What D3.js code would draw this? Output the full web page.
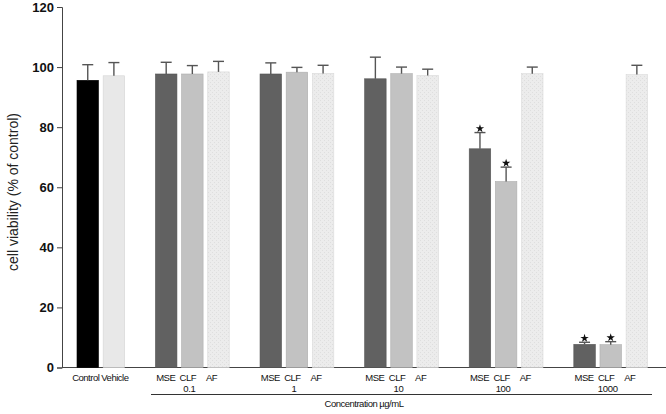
<!DOCTYPE html>
<html>
<head>
<meta charset="utf-8">
<script src="https://cdn.jsdelivr.net/npm/d3@7"></script>
<style>
  body { margin: 0; background: #fff; }
  text { font-family: "Liberation Sans", Arial, sans-serif; }
</style>
</head>
<body>
<div id="chart"></div>
<script>
// chart data (mean and upper error length)
var controlNames = ["Control", "Vehicle"];
var controlMeans = [95.6, 97.1];
var controlErr = [5.2, 4.4];

var groupLabels = ["0.1", "1", "10", "100", "1000"];
var seriesNames = ["MSE", "CLF", "AF"];
var mseMeans = [97.7, 97.7, 96.1, 72.8, 7.7];
var mseErr = [3.9, 3.7, 7.2, 5.4, 0.7];
var clfMeans = [97.7, 98.3, 97.8, 61.9, 7.6];
var clfErr = [2.8, 1.6, 2.2, 4.8, 1.0];
var afMeans = [98.4, 97.9, 97.2, 97.8, 97.5];
var afErr = [3.5, 2.7, 2.1, 2.2, 3.1];
var mseSig = [false, false, false, true, true];
var clfSig = [false, false, false, true, true];

var yTicks = [0, 20, 40, 60, 80, 100, 120];

var svgWidth = 666;
var svgHeight = 414;

var svg = d3.select("#chart")
  .append("svg")
  .attr("width", svgWidth)
  .attr("height", svgHeight);

// dotted fill for AF bars
var defs = svg.append("defs");
var pat = defs.append("pattern")
  .attr("id", "dots")
  .attr("width", 4)
  .attr("height", 4)
  .attr("patternUnits", "userSpaceOnUse");
pat.append("rect").attr("width", 4).attr("height", 4).attr("fill", "#ececec");
pat.append("rect").attr("x", 0).attr("y", 0).attr("width", 1).attr("height", 1).attr("fill", "#dedede");
pat.append("rect").attr("x", 2).attr("y", 2).attr("width", 1).attr("height", 1).attr("fill", "#dedede");

// build the list of bars, one slot each (empty slots between groups)
var bars = [];
controlNames.forEach(function(name, i) {
  bars.push({ slot: i, name: name, mean: controlMeans[i], err: controlErr[i], sig: false,
    fill: i === 0 ? "#000" : "#e8e8e8", stroke: i === 0 ? "#000" : "#d4d4d4" });
});
var seriesMeans = [mseMeans, clfMeans, afMeans];
var seriesErr = [mseErr, clfErr, afErr];
var seriesSig = [mseSig, clfSig, [false, false, false, false, false]];
var seriesFill = ["#616161", "#c2c2c2", "url(#dots)"];
var seriesStroke = ["#555", "#adadad", "#dadada"];
groupLabels.forEach(function(g, gi) {
  seriesNames.forEach(function(s, si) {
    bars.push({ slot: 3 + gi * 4 + si, name: s, group: gi, series: si,
      mean: seriesMeans[si][gi], err: seriesErr[si][gi], sig: seriesSig[si][gi],
      fill: seriesFill[si], stroke: seriesStroke[si] });
  });
});

var x = d3.scaleBand()
  .domain(d3.range(22))
  .range([77, 647.6])
  .paddingInner(0.178)
  .paddingOuter(0);

var y = d3.scaleLinear()
  .domain([0, 120])
  .range([367.5, 7]);

// y axis
var yAxis = svg.append("g")
  .attr("transform", "translate(62,0)")
  .call(d3.axisLeft(y).tickValues(yTicks).tickSize(5).tickPadding(3));
yAxis.select(".domain").attr("stroke", "#444");
yAxis.selectAll(".tick line").attr("stroke", "#444");
yAxis.selectAll(".tick text")
  .attr("font-size", "13px")
  .attr("font-weight", "bold")
  .attr("fill", "#111");

// x axis line
svg.append("line")
  .attr("x1", 62).attr("x2", 666)
  .attr("y1", y(0)).attr("y2", y(0))
  .attr("stroke", "#444");

// bars
svg.append("g").selectAll("rect")
  .data(bars)
  .enter()
  .append("rect")
  .attr("x", d => x(d.slot))
  .attr("y", d => y(d.mean))
  .attr("width", x.bandwidth())
  .attr("height", d => y(0) - y(d.mean))
  .attr("fill", d => d.fill)
  .attr("stroke", d => d.stroke)
  .attr("stroke-width", 0.6);

// error bars (upper only)
var errG = svg.append("g").attr("stroke", "#555").attr("stroke-width", 1.4);
bars.forEach(function(d) {
  var cx = x(d.slot) + x.bandwidth() / 2;
  errG.append("line")
    .attr("x1", cx).attr("x2", cx)
    .attr("y1", y(d.mean)).attr("y2", y(d.mean + d.err));
  errG.append("line")
    .attr("x1", cx - 5.5).attr("x2", cx + 5.5)
    .attr("y1", y(d.mean + d.err)).attr("y2", y(d.mean + d.err));
});

// significance stars
svg.append("g").selectAll("path")
  .data(bars.filter(d => d.sig))
  .enter()
  .append("path")
  .attr("d", d3.symbol().type(d3.symbolStar).size(22))
  .attr("transform", d => `translate(${x(d.slot) + x.bandwidth() / 2}, ${y(d.mean + d.err) - 4})`)
  .attr("fill", "#111");

// category labels
var labelShift = { "MSE": -0.5, "CLF": -4.5, "AF": -7, "Control": -2, "Vehicle": 1 };
svg.append("g").selectAll("text")
  .data(bars)
  .enter()
  .append("text")
  .attr("x", d => x(d.slot) + x.bandwidth() / 2 + labelShift[d.name])
  .attr("y", 380.5)
  .attr("text-anchor", "middle")
  .attr("font-size", "9.5px")
  .attr("letter-spacing", "-0.5px")
  .attr("fill", "#111")
  .text(d => d.name);

// concentration labels under each group
svg.append("g").selectAll("text")
  .data(groupLabels)
  .enter()
  .append("text")
  .attr("x", (d, i) => x(3 + i * 4 + 1) + x.bandwidth() / 2 - 3)
  .attr("y", 391.5)
  .attr("text-anchor", "middle")
  .attr("font-size", "9.5px")
  .attr("letter-spacing", "-0.3px")
  .attr("fill", "#111")
  .text(d => d);

svg.append("line")
  .attr("x1", 151).attr("x2", 652)
  .attr("y1", 394.5).attr("y2", 394.5)
  .attr("stroke", "#333");

svg.append("text")
  .attr("x", 364)
  .attr("y", 407)
  .attr("text-anchor", "middle")
  .attr("font-size", "9.5px")
  .attr("letter-spacing", "-0.5px")
  .attr("fill", "#111")
  .text("Concentration µg/mL");

// y axis title
svg.append("text")
  .attr("transform", "rotate(-90)")
  .attr("x", -192)
  .attr("y", 18)
  .attr("text-anchor", "middle")
  .attr("font-size", "14px")
  .attr("fill", "#222")
  .text("cell viability (% of control)");
</script>
</body>
</html>
